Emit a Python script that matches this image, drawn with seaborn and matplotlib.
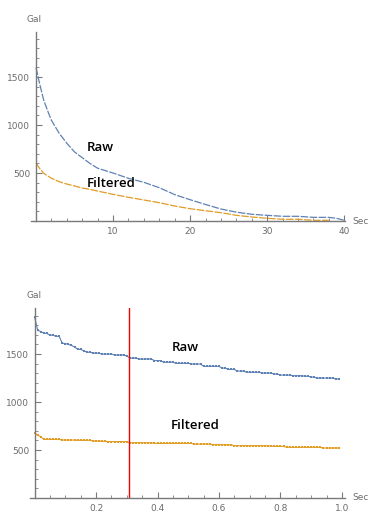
import numpy as np
import pandas as pd
import matplotlib
matplotlib.use("Agg")
import matplotlib.pyplot as plt
import seaborn as sns
from matplotlib.ticker import MultipleLocator, FixedLocator

# ---------------- data ----------------
# Top panel: full record (seconds)
top_t_raw = [0, 0.5, 1, 1.5, 2, 3, 4, 5, 6, 7, 8, 10, 12, 14, 16, 18, 20, 22, 24, 26, 28, 30, 32, 34, 36, 38, 39, 40]
top_raw = [1600, 1420, 1260, 1150, 1050, 915, 810, 720, 660, 600, 550, 500, 445, 403, 347, 275, 222, 172, 125, 92, 70, 59, 49, 49, 38, 38, 28, 7]

top_t_filt = [0, 0.5, 1, 2, 3, 4, 5, 6, 7, 8, 10, 12, 14, 16, 18, 20, 22, 24, 26, 28, 30, 32, 34, 36, 38]
top_filt = [605, 545, 497, 445, 410, 385, 365, 344, 330, 312, 278, 247, 219, 191, 156, 128, 107, 87, 59, 42, 28, 18, 18, 7, 7]

# Bottom panel: first second, sampled every 0.01 s
bot_t = [i / 100 for i in range(100)]
bot_raw = [1885, 1747, 1735, 1718, 1715, 1698, 1695, 1685, 1684, 1612,
           1610, 1600, 1590, 1575, 1550, 1548, 1535, 1520, 1518, 1512,
           1510, 1508, 1500, 1500, 1500, 1500, 1490, 1490, 1490, 1490,
           1480, 1458, 1458, 1458, 1448, 1448, 1448, 1448, 1448, 1432,
           1432, 1432, 1415, 1415, 1415, 1415, 1403, 1403, 1403, 1403,
           1403, 1396, 1396, 1396, 1396, 1372, 1372, 1372, 1372, 1372,
           1372, 1354, 1354, 1340, 1340, 1340, 1323, 1323, 1323, 1310,
           1310, 1310, 1310, 1310, 1302, 1302, 1302, 1302, 1292, 1292,
           1281, 1281, 1281, 1281, 1274, 1274, 1274, 1274, 1268, 1268,
           1262, 1257, 1250, 1250, 1250, 1250, 1250, 1250, 1240, 1240]
bot_filt = [680, 653, 639, 611, 611, 611, 611, 611, 611, 604,
            604, 604, 604, 604, 601, 601, 601, 601, 601, 594,
            594, 594, 590, 590, 588, 588, 588, 588, 588, 588,
            588, 576, 576, 576, 576, 576, 576, 576, 576, 569,
            569, 569, 569, 569, 569, 569, 569, 569, 569, 569,
            569, 569, 562, 562, 562, 562, 562, 562, 555, 555,
            555, 555, 555, 555, 555, 545, 545, 545, 545, 545,
            545, 545, 545, 545, 545, 545, 545, 538, 538, 538,
            538, 538, 528, 528, 528, 528, 528, 528, 528, 528,
            528, 528, 528, 528, 521, 521, 521, 521, 521, 521]
marker_t = 0.307

series_labels = ["Raw", "Filtered"]
# ---------------------------------------

sns.set_style("white")
plt.rcParams['font.family'] = ['DejaVu Sans']

BLUE = "#5E81B5"
ORANGE = "#E19C24"
AXC = "#7a7a7a"
TXC = "#6b6b6b"

W, H = 387, 522
fig = plt.figure(figsize=(W / 100, H / 100), dpi=100)


def fx(px):
    return px / W


def fy(py):
    return (H - py) / H


ax1 = fig.add_axes([fx(31), fy(221), fx(345) - fx(31), fy(32) - fy(221)])
ax2 = fig.add_axes([fx(30), fy(498), fx(345) - fx(30), fy(308) - fy(498)])

df_top_raw = pd.DataFrame({"t": top_t_raw, "v": top_raw})
df_top_filt = pd.DataFrame({"t": top_t_filt, "v": top_filt})
sns.lineplot(data=df_top_raw, x="t", y="v", ax=ax1, color=BLUE, lw=0.9,
             linestyle=(0, (6, 1.2)), estimator=None)
sns.lineplot(data=df_top_filt, x="t", y="v", ax=ax1, color=ORANGE, lw=0.9,
             linestyle=(0, (6, 1.2)), estimator=None)

df_bot = pd.DataFrame({"t": bot_t, "raw": bot_raw, "filt": bot_filt})
sns.lineplot(data=df_bot, x="t", y="raw", ax=ax2, color=BLUE, lw=0.8,
             marker="s", markersize=1.8, markeredgewidth=0, estimator=None)
sns.lineplot(data=df_bot, x="t", y="filt", ax=ax2, color=ORANGE, lw=0.8,
             marker="s", markersize=1.8, markeredgewidth=0, estimator=None)
ax2.axvline(marker_t, color="#ee0000", lw=1.0)

ax1.set_xlim(-0.65, 40.1)
ax1.set_ylim(0, 1970)
ax2.set_xlim(-0.015, 1.01)
ax2.set_ylim(0, 1980)

for ax, xmaj, xmin in [(ax1, [10, 20, 30, 40], 2), (ax2, [0.2, 0.4, 0.6, 0.8, 1.0], 0.05)]:
    for s in ["top", "right"]:
        ax.spines[s].set_visible(False)
    ax.spines["left"].set_position(("data", 0))
    ax.spines["bottom"].set_position(("data", 0))
    for s in ["left", "bottom"]:
        ax.spines[s].set_color(AXC)
        ax.spines[s].set_linewidth(1.0)
    ax.xaxis.set_major_locator(FixedLocator(xmaj))
    ax.xaxis.set_minor_locator(MultipleLocator(xmin))
    ax.yaxis.set_major_locator(FixedLocator([500, 1000, 1500]))
    ax.yaxis.set_minor_locator(MultipleLocator(100))
    ax.tick_params(axis="both", which="both", bottom=True, left=True, top=False, right=False)
    ax.tick_params(axis="both", which="major", direction="in", length=4, width=0.8,
                   color=AXC, labelcolor=TXC, labelsize=6.5, pad=4)
    ax.tick_params(axis="both", which="minor", direction="in", length=2.2, width=0.6,
                   color=AXC)
    ax.set_xlabel("")
    ax.set_ylabel("")
    ax.grid(False)

ax1.set_xticklabels(["10", "20", "30", "40"])
ax2.set_xticklabels(["0.2", "0.4", "0.6", "0.8", "1.0"])

lab_kw = dict(fontsize=9.5, fontweight="semibold", family=["Open Sans", "DejaVu Sans"], color="black",
              ha="left", va="center")
ax1.text(6.6, 770, series_labels[0], **lab_kw)
ax1.text(6.6, 396, series_labels[1], **lab_kw)
ax2.text(0.447, 1573, series_labels[0], **lab_kw)
ax2.text(0.444, 760, series_labels[1], **lab_kw)

ax_kw = dict(fontsize=6.5, color=TXC, ha="center", va="center")
fig.text(fx(34), fy(19), "Gal", **ax_kw)
fig.text(fx(34), fy(295), "Gal", **ax_kw)
fig.text(fx(361), fy(222), "Sec", **ax_kw)
fig.text(fx(361), fy(498), "Sec", **ax_kw)

fig.savefig("out.png", dpi=100)
